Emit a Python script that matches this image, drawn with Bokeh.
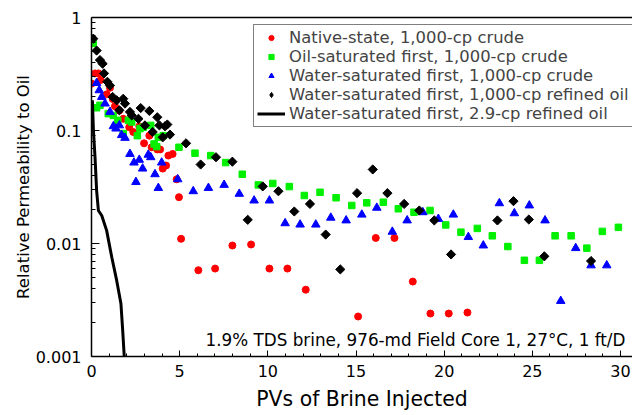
from bokeh.plotting import figure
from bokeh.models import (FixedTicker, SingleIntervalTicker, CustomJSTickFormatter,
                          Legend, LegendItem, Label, LinearAxis, Range1d)
from bokeh.embed import file_html
from bokeh.resources import INLINE
import math

FONT = "DejaVu Sans"

# ---------------- data ----------------
pv_native = [0.01, 0.2, 0.39, 0.52, 0.86, 1.05, 1.2, 1.33, 1.58, 1.8, 2.14, 2.37, 2.71, 2.98,
             3.28, 3.41, 3.73, 3.89, 4.04, 4.23, 4.36, 4.6, 4.83, 4.96, 5.08, 6.06, 7.01,
             7.99, 9.05, 10.09, 11.11, 12.15, 15.12, 16.12, 17.18, 18.22, 19.22, 20.26, 21.32]
kr_native = [0.26, 0.32, 0.32, 0.28, 0.209, 0.239, 0.19, 0.164, 0.15, 0.127, 0.107, 0.097, 0.109,
             0.077, 0.090, 0.071, 0.068, 0.068, 0.046, 0.049, 0.060, 0.062, 0.037, 0.0257, 0.011,
             0.0058, 0.0060, 0.0096, 0.0098, 0.0060, 0.0060, 0.0039, 0.00226, 0.0112, 0.0112,
             0.0046, 0.0024, 0.0024, 0.00245]

pv_oilsat = [0.1, 0.29, 0.48, 0.95, 1.24, 1.49, 1.8, 2.09, 2.28, 2.6, 2.75, 2.94, 3.36, 3.55, 3.7,
             3.79, 4.07, 4.96, 5.87, 6.76, 7.61, 8.55, 9.46, 10.28, 11.22, 12.07, 12.96, 13.87,
             14.76, 15.61, 16.55, 17.4, 18.29, 19.2, 20.09, 20.95, 21.88, 22.73, 23.61, 24.55,
             25.4, 26.29, 27.2, 28.09, 28.97, 29.88]
kr_oilsat = [0.59, 0.159, 0.167, 0.141, 0.136, 0.123, 0.094, 0.123, 0.119, 0.090, 0.104, 0.107,
             0.111, 0.076, 0.072, 0.087, 0.090, 0.071, 0.063, 0.060, 0.052, 0.041, 0.033, 0.034,
             0.0319, 0.0266, 0.0284, 0.0254, 0.0217, 0.0229, 0.0232, 0.0203, 0.0189, 0.0196,
             0.0146, 0.0126, 0.0136, 0.0117, 0.0094, 0.0071, 0.0071, 0.0117, 0.0117, 0.0091,
             0.0128, 0.0139]

pv_watsat = [0.29, 0.44, 0.58, 0.77, 1.05, 1.24, 1.39, 1.58, 1.71, 1.9, 2.18, 2.41, 2.52, 2.71,
             2.9, 3.22, 3.36, 3.6, 3.79, 3.98, 4.89, 5.77, 6.63, 7.52, 8.38, 9.22, 10.09, 10.98,
             11.83, 12.72, 13.57, 14.44, 15.33, 16.18, 17.06, 17.9, 18.79, 19.67, 20.52, 21.37,
             22.22, 23.13, 23.98, 24.83, 25.72, 26.61, 27.46, 28.33, 29.22]
kr_watsat = [0.263, 0.227, 0.198, 0.173, 0.146, 0.109, 0.104, 0.111, 0.091, 0.086, 0.062, 0.052,
             0.035, 0.055, 0.046, 0.061, 0.058, 0.041, 0.031, 0.052, 0.037, 0.029, 0.031, 0.033,
             0.0275, 0.024, 0.024, 0.0151, 0.0147, 0.0147, 0.0169, 0.016, 0.018, 0.0207, 0.0127,
             0.016, 0.0189, 0.0165, 0.018, 0.0114, 0.0096, 0.0227, 0.0185, 0.0217, 0.016, 0.0031,
             0.0091, 0.0064, 0.0064]

pv_refined = [0.1, 0.29, 0.48, 0.63, 0.71, 0.9, 1.05, 1.2, 1.43, 1.58, 1.8, 1.9, 2.18, 2.28, 2.66,
              2.79, 3.03, 3.28, 3.47, 3.73, 3.85, 4.04, 4.17, 4.3, 4.45, 5.36, 6.19, 7.06, 7.99,
              8.86, 9.71, 10.6, 11.5, 12.39, 13.28, 14.11, 15.06, 15.95, 16.78, 17.73, 18.59,
              19.44, 20.39, 23.02, 23.93, 24.8, 25.68, 28.33]
kr_refined = [0.65, 0.51, 0.42, 0.39, 0.32, 0.27, 0.25, 0.198, 0.185, 0.151, 0.191, 0.173, 0.146,
              0.136, 0.127, 0.158, 0.111, 0.149, 0.097, 0.131, 0.111, 0.087, 0.109, 0.113, 0.092,
              0.077, 0.050, 0.058, 0.053, 0.0162, 0.032, 0.029, 0.0192, 0.0224, 0.012, 0.0059,
              0.0279, 0.0452, 0.0279, 0.0224, 0.0196, 0.016, 0.008, 0.016, 0.0237, 0.0163, 0.0077,
              0.007]

pv_light = [0.05, 0.11, 0.2, 0.29, 0.39, 0.58, 0.86, 1.15, 1.43, 1.67, 1.77, 1.86]
kr_light = [0.185, 0.100, 0.0578, 0.0294, 0.0196, 0.0177, 0.0130, 0.00755, 0.00469, 0.00293,
            0.00169, 0.00098]

series_labels = ["Native-state, 1,000-cp crude",
                 "Oil-saturated first, 1,000-cp crude",
                 "Water-saturated first, 1,000-cp crude",
                 "Water-saturated first, 1,000-cp refined oil",
                 "Water-saturated first, 2.9-cp refined oil"]

y_ticks = [0.001, 0.01, 0.1, 1]
y_minor = [m * d for d in [0.001, 0.01, 0.1] for m in range(2, 10)]
x_label = "PVs of Brine Injected"
y_label = "Relative Permeability to Oil"
note = "1.9% TDS brine, 976-md Field Core 1, 27\u00b0C, 1 ft/D"

# ---------------- figure ----------------
p = figure(width=632, height=415, x_range=Range1d(0, 30.68), y_range=Range1d(0.001, 1),
           y_axis_type="log", output_backend="svg", toolbar_location=None,
           min_border_left=91, min_border_right=0, min_border_top=17, min_border_bottom=59,
           background_fill_color="white", border_fill_color="white")
p.outline_line_color = None
p.grid.visible = False

xa = p.below[0]
ya = p.left[0]

# plain frame line along the top (no ticks, no labels)
top = LinearAxis(ticker=FixedTicker(ticks=[]), major_tick_line_color=None,
                 minor_tick_line_color=None, axis_line_width=1.5,
                 axis_line_color="black", major_label_standoff=0)
p.add_layout(top, "above")

xa.ticker = SingleIntervalTicker(interval=5, num_minor_ticks=5)
ya.ticker = FixedTicker(ticks=y_ticks, minor_ticks=y_minor)
ya.formatter = CustomJSTickFormatter(code="return tick.toString()")

for ax in (xa, ya):
    ax.axis_line_width = 1.5
    ax.axis_line_color = "black"
    ax.major_tick_line_color = "black"
    ax.minor_tick_line_color = "black"
    ax.major_tick_line_width = 1
    ax.minor_tick_line_width = 1
    ax.major_tick_out = 0
    ax.minor_tick_out = 0
    ax.major_label_text_font = FONT
    ax.major_label_text_font_size = "16px"
    ax.major_label_text_color = "black"
    ax.axis_label_text_font = FONT
    ax.axis_label_text_font_style = "normal"
    ax.axis_label_text_color = "black"

xa.major_tick_in = 6
xa.minor_tick_in = 3
ya.major_tick_in = 8
ya.minor_tick_in = 4
xa.axis_label = x_label
xa.axis_label_text_font_size = "20.4px"
xa.major_label_standoff = 8
xa.axis_label_standoff = 7
ya.axis_label = y_label
ya.axis_label_text_font_size = "16.5px"
ya.major_label_standoff = 10
ya.axis_label_standoff = 0

r1 = p.scatter(pv_native, kr_native, marker="circle", size=7,
               fill_color="#ff0000", line_color="#ff0000")
r2 = p.scatter(pv_oilsat, kr_oilsat, marker="square", size=6.5,
               fill_color="#00f000", line_color="#00f000")
r3 = p.scatter(pv_watsat, kr_watsat, marker="triangle", size=8.5,
               fill_color="#0000ff", line_color="#0000ff")
r4 = p.scatter(pv_refined, kr_refined, marker="square", angle=math.pi / 4, size=6.5,
               fill_color="black", line_color="black")
r5 = p.line(pv_light, kr_light, line_color="black", line_width=3)
# hidden twin of the diamonds series, used only so the legend key is a diamond
r4_key = p.scatter(pv_refined, kr_refined, marker="diamond", size=8,
                   fill_color="black", line_color="black", visible=False)

legend = Legend(items=[LegendItem(label=series_labels[i], renderers=[r])
                       for i, r in enumerate([r1, r2, r3, r4_key, r5])],
                location=(162, 229), label_text_font=FONT, label_text_font_size="16.4px",
                label_text_line_height=1.13,
                glyph_width=28, glyph_height=13, label_height=19, spacing=0, padding=3,
                label_standoff=4, border_line_color="black", border_line_width=1.5,
                background_fill_color="white", background_fill_alpha=1, margin=0,
                inactive_fill_alpha=0)
p.add_layout(legend)

p.add_layout(Label(x=30.28, y=0.00139, text=note, text_font=FONT, text_font_size="16.8px",
                   text_align="right", text_baseline="alphabetic", text_color="black"))

open("out.html", "w").write(file_html(p, INLINE))
